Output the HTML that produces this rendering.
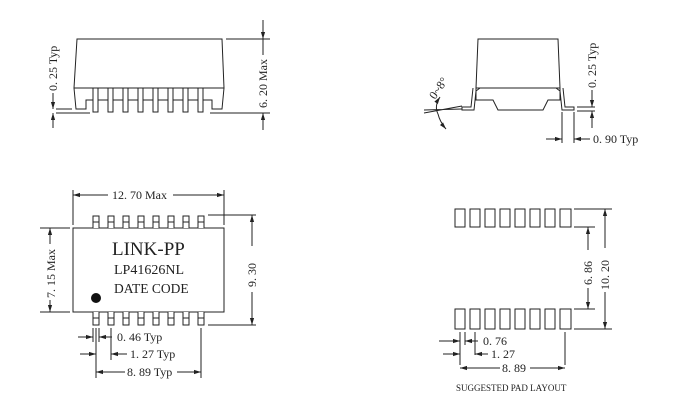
<!DOCTYPE html>
<html><head><style>
html,body{margin:0;padding:0;background:#fff;}
svg{display:block;}
text{font-family:"Liberation Serif",serif;fill:#222;}
</style></head><body>
<svg width="680" height="404" viewBox="0 0 680 404" xmlns="http://www.w3.org/2000/svg">
<defs>
<marker id="a" viewBox="0 0 10 10" refX="10" refY="5" markerWidth="7" markerHeight="7" orient="auto-start-reverse"><path d="M0,2 L10,5 L0,8 z" fill="#222"/></marker>
</defs>
<g stroke="#222" stroke-width="1" fill="none">
<path d="M77,39 L222,39 L224,88 L74,88 Z" fill="#fff"/>
<path d="M74,88 L76,109 L86,109 L86,100 L93,100"/>
<path d="M224,88 L222,109 L212,109 L212,100 L205,100"/>
<path d="M86,100 L212,100"/>
<rect x="93" y="88" width="5" height="24" fill="#fff"/>
<rect x="108" y="88" width="5" height="24" fill="#fff"/>
<rect x="123" y="88" width="5" height="24" fill="#fff"/>
<rect x="138" y="88" width="5" height="24" fill="#fff"/>
<rect x="153" y="88" width="5" height="24" fill="#fff"/>
<rect x="168" y="88" width="5" height="24" fill="#fff"/>
<rect x="183" y="88" width="5" height="24" fill="#fff"/>
<rect x="198" y="88" width="5" height="24" fill="#fff"/>
<path d="M56,109 L72,109 M56,113 L90,113 M210,113 L270,113 M226,39 L270,39"/>
<line x1="263" y1="20" x2="263" y2="39" marker-end="url(#a)"/>
<line x1="263" y1="130" x2="263" y2="113" marker-end="url(#a)"/>
<line x1="263" y1="39" x2="263" y2="55"/>
<line x1="53" y1="93" x2="53" y2="109" marker-end="url(#a)"/>
<line x1="53" y1="128" x2="53" y2="113" marker-end="url(#a)"/>

<path d="M478,39 L558,39 L560,88 L476,88 Z" fill="#fff"/>
<path d="M476,88 L476,100 L493,100 L498,110 L543,110 L548,100 L560,100 L560,88"/>
<path d="M473,88 L471,107 L462,107 L462,110 L474,110 L476,91 L480,88"/>
<path d="M563,88 L565,107 L574,107 L574,110 L562,110 L560,91 L556,88"/>
<path d="M424,110 L462,109 M424,113 L462,106"/>
<path d="M440,97 Q434,106 438,114" marker-start="url(#a)"/>
<path d="M438,114 Q440,122 446,129" marker-end="url(#a)"/>
<path d="M577,107 L595,107 M577,111 L595,111"/>
<line x1="592" y1="90" x2="592" y2="107" marker-end="url(#a)"/>
<line x1="592" y1="128" x2="592" y2="111" marker-end="url(#a)"/>
<path d="M562,112 L562,143 M574,112 L574,143"/>
<line x1="546" y1="139" x2="562" y2="139" marker-end="url(#a)"/>
<line x1="590" y1="139" x2="574" y2="139" marker-end="url(#a)"/>

<rect x="73" y="228" width="151" height="84" fill="#fff"/>
<g fill="#fff">
<path d="M93,228 V216 H99 V228 M93,222 H99"/>
<path d="M108,228 V216 H114 V228 M108,222 H114"/>
<path d="M123,228 V216 H129 V228 M123,222 H129"/>
<path d="M138,228 V216 H144 V228 M138,222 H144"/>
<path d="M153,228 V216 H159 V228 M153,222 H159"/>
<path d="M168,228 V216 H174 V228 M168,222 H174"/>
<path d="M183,228 V216 H189 V228 M183,222 H189"/>
<path d="M198,228 V216 H204 V228 M198,222 H204"/>
<path d="M93,312 V325 H99 V312 M93,318 H99"/>
<path d="M108,312 V325 H114 V312 M108,318 H114"/>
<path d="M123,312 V325 H129 V312 M123,318 H129"/>
<path d="M138,312 V325 H144 V312 M138,318 H144"/>
<path d="M153,312 V325 H159 V312 M153,318 H159"/>
<path d="M168,312 V325 H174 V312 M168,318 H174"/>
<path d="M183,312 V325 H189 V312 M183,318 H189"/>
<path d="M198,312 V325 H204 V312 M198,318 H204"/>
</g>
<path d="M73,190 L73,225 M224,190 L224,225"/>
<line x1="108" y1="195" x2="73" y2="195" marker-end="url(#a)"/>
<line x1="173" y1="195" x2="224" y2="195" marker-end="url(#a)"/>
<path d="M208,215 L256,215 M208,325 L256,325"/>
<line x1="252" y1="246" x2="252" y2="215" marker-end="url(#a)"/>
<line x1="252" y1="292" x2="252" y2="325" marker-end="url(#a)"/>
<path d="M40,228 L70,228 M40,312 L70,312"/>
<line x1="50" y1="244" x2="50" y2="228" marker-end="url(#a)"/>
<line x1="50" y1="300" x2="50" y2="312" marker-end="url(#a)"/>
<path d="M93,328 V342 M99,328 V342 M96,328 V378 M111,328 V360 M201,328 V378"/>
<line x1="78" y1="337" x2="93" y2="337" marker-end="url(#a)"/>
<line x1="112" y1="337" x2="99" y2="337" marker-end="url(#a)"/>
<line x1="80" y1="354" x2="96" y2="354" marker-end="url(#a)"/>
<line x1="127" y1="354" x2="111" y2="354" marker-end="url(#a)"/>
<line x1="125" y1="372" x2="96" y2="372" marker-end="url(#a)"/>
<line x1="177" y1="372" x2="201" y2="372" marker-end="url(#a)"/>

<g>
<rect x="455" y="209" width="10" height="18"/><rect x="470" y="209" width="10" height="18"/>
<rect x="485" y="209" width="10" height="18"/><rect x="500" y="209" width="10" height="18"/>
<rect x="515" y="209" width="10" height="18"/><rect x="530" y="209" width="10" height="18"/>
<rect x="545" y="209" width="10" height="18"/><rect x="560" y="209" width="11" height="18"/>
<rect x="455" y="309" width="10" height="20"/><rect x="470" y="309" width="10" height="20"/>
<rect x="485" y="309" width="10" height="20"/><rect x="500" y="309" width="10" height="20"/>
<rect x="515" y="309" width="10" height="20"/><rect x="530" y="309" width="10" height="20"/>
<rect x="545" y="309" width="10" height="20"/><rect x="560" y="309" width="11" height="20"/>
</g>
<path d="M574,209 L612,209 M574,227 L595,227 M574,309 L595,309 M574,329 L612,329"/>
<line x1="588" y1="250" x2="588" y2="227" marker-end="url(#a)"/>
<line x1="588" y1="288" x2="588" y2="309" marker-end="url(#a)"/>
<line x1="605" y1="248" x2="605" y2="209" marker-end="url(#a)"/>
<line x1="605" y1="292" x2="605" y2="329" marker-end="url(#a)"/>
<path d="M460,332 V365 M465,332 V345 M475,332 V355 M565,332 V365"/>
<line x1="439" y1="341" x2="460" y2="341" marker-end="url(#a)"/>
<line x1="478" y1="341" x2="465" y2="341" marker-end="url(#a)"/>
<line x1="443" y1="354" x2="460" y2="354" marker-end="url(#a)"/>
<line x1="488" y1="354" x2="475" y2="354" marker-end="url(#a)"/>
<line x1="500" y1="368" x2="460" y2="368" marker-end="url(#a)"/>
<line x1="530" y1="368" x2="565" y2="368" marker-end="url(#a)"/>
</g>
<circle cx="96" cy="298" r="5" fill="#111"/>

<g font-size="12">
<text transform="translate(57,91) rotate(-90)">0. 25 Typ</text>
<text transform="translate(267,108) rotate(-90)">6. 20 Max</text>
<text transform="translate(435,100) rotate(-55)">0~8°</text>
<text transform="translate(596,88) rotate(-90)">0. 25 Typ</text>
<text x="593" y="143">0. 90 Typ</text>
<text x="112" y="199">12. 70 Max</text>
<text transform="translate(55,298) rotate(-90)">7. 15 Max</text>
<text transform="translate(256,287) rotate(-90)">9. 30</text>
<text x="117" y="341">0. 46 Typ</text>
<text x="130" y="358">1. 27 Typ</text>
<text x="127" y="376">8. 89 Typ</text>
<text transform="translate(592,285) rotate(-90)">6. 86</text>
<text transform="translate(609,290) rotate(-90)">10. 20</text>
<text x="483" y="345">0. 76</text>
<text x="491" y="358">1. 27</text>
<text x="502" y="372">8. 89</text>
<text x="456" y="391" font-size="9">SUGGESTED PAD LAYOUT</text>
</g>
<text x="112" y="255" font-size="19">LINK-PP</text>
<text x="114" y="274" font-size="14">LP41626NL</text>
<text x="114" y="293" font-size="13.5">DATE CODE</text>
</svg>
</body></html>
